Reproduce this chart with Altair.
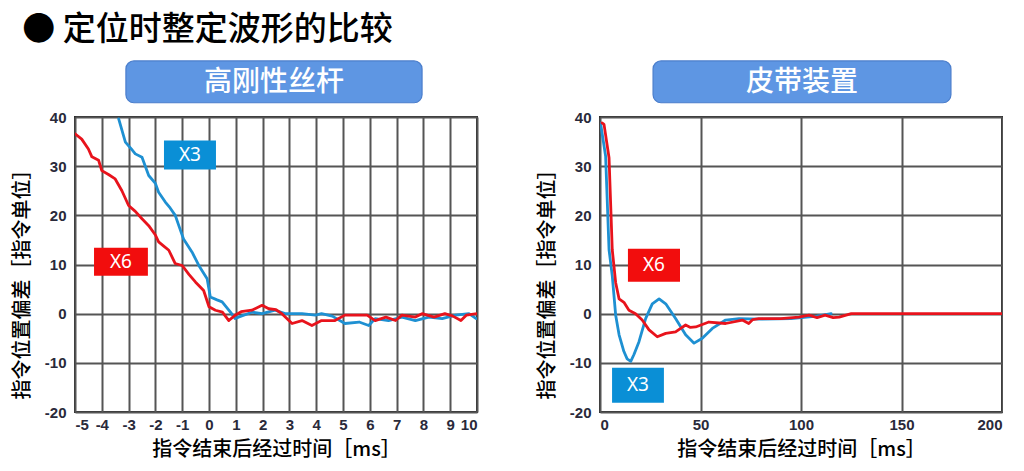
import altair as alt
import pandas as pd

# ---------------- data ----------------
# Left panel: 高刚性丝杆 (time in ms, deviation in command units)
left_x6_t = [-5, -4.75, -4.5, -4.37, -4.12, -4.0, -3.75, -3.5, -3.25, -3.0, -2.75, -2.5, -2.25, -2.0,
             -1.88, -1.7, -1.5, -1.26, -1.0, -0.75, -0.5, -0.2, 0.0, 0.24, 0.5, 0.74, 0.98, 1.2, 1.6,
             1.98, 2.23, 2.5, 2.72, 3.1, 3.47, 3.84, 4.2, 4.7, 5.07, 5.5, 5.9, 6.2, 6.6, 6.96, 7.2,
             7.7, 7.95, 8.4, 8.8, 9.1, 9.4, 9.6, 10]
left_x6_v = [36.6, 35.5, 33.5, 31.9, 31.2, 29.1, 28.3, 27.4, 25, 22, 20.8, 19.3, 17.9, 16,
             14.6, 13.8, 12.9, 10.2, 9.8, 8.0, 6.4, 4.7, 1.4, 0.7, 0.3, -1.4, -0.3, 0.4, 0.7,
             1.7, 1.0, 0.8, 0, -2.0, -1.4, -2.4, -1.4, -1.4, -0.3, -0.3, -0.3, -1.4, -0.7, -1.4, -0.3,
             -0.7, 0, -0.7, 0, -0.5, -1.4, -0.3, 0]
left_x3_t = [-3.37, -3.12, -2.9, -2.75, -2.5, -2.25, -2.0, -1.88, -1.63, -1.45, -1.26, -1.1, -0.95,
             -0.63, -0.38, -0.07, 0.05, 0.3, 0.49, 0.8, 0.98, 1.1, 1.6, 1.98, 2.47, 2.84, 3.47, 3.97,
             4.2, 4.6, 5.07, 5.6, 5.96, 6.2, 6.7, 7.2, 7.7, 8.2, 8.7, 9.2, 9.7, 9.97]
left_x3_v = [39.6, 34.9, 33.5, 32.5, 31.8, 28.1, 26.5, 24.7, 22.7, 21.5, 20, 17.5, 15.2,
             12.5, 9.8, 7.1, 3.4, 2.8, 2.4, 0.3, -1.0, -0.7, 0.3, 0, 0.7, 0, 0, -0.3,
             0, -0.5, -2.0, -1.7, -2.4, -1.0, -1.4, -0.7, -1.4, -0.7, -1.0, -0.3, 0, -1.0]

# Right panel: 皮带装置
right_x6_t = [1, 2, 4.5, 6.1, 7.8, 9.5, 11.9, 14.4, 17.7, 21, 24.4, 28.5, 32.7, 37.6, 42.6, 45, 47.6,
              54.2, 62.5, 70.8, 74, 76, 79, 90, 99, 104, 108, 112, 116, 119, 125, 150, 200]
right_x6_v = [38.8, 38.5, 31.7, 13, 6.3, 3, 2.3, 0.7, 0, -1.3, -3.3, -4.7, -4, -3.7, -2.3, -2.8, -2.7,
              -1.7, -2, -1.3, -2, -1.2, -1, -1, -0.7, -0.3, -0.8, -0.3, -0.8, -0.7, 0, 0, 0]
right_x3_t = [0.3, 2.8, 4.5, 6.1, 7.8, 9.5, 11.9, 13.5, 15.3, 16.9, 19.4, 22.7, 26, 29.4, 32.7, 37.6,
              42.6, 46.8, 50.9, 55.9, 62.5, 69.2, 80, 95, 108, 115]
right_x3_v = [38.7, 32, 13, 7.7, -0.3, -4.3, -7.7, -9.2, -9.7, -8.3, -5.7, -1, 2, 3, 2, -1,
              -4.3, -6, -5, -3, -1.3, -1, -1.1, -1, -0.5, 0]

left_ticks = list(range(-5, 11))
right_ticks = [0, 50, 100, 150, 200]
y_ticks = [-20, -10, 0, 10, 20, 30, 40]

main_title = "● 定位时整定波形的比较"
left_header = "高刚性丝杆"
right_header = "皮带装置"
x_title = "指令结束后经过时间［ms］"
y_title = "指令位置偏差［指令单位］"
series_names = ["X3", "X6"]

# ---------------- styles / annotation layout ----------------
COLORS = {"X3": "#1E90D2", "X6": "#E8131C"}
TAG_COLORS = {"X3": "#0A8FD6", "X6": "#F20D0D"}
HEADER_FILL = "#5E96E3"
HEADER_STROKE = "#4B7ECC"
CJK = "Noto Sans CJK SC"

# tag boxes given in each panel's data coordinates: (series, t1, t2, v1, v2)
left_tags = [("X3", -1.68, 0.26, 35.2, 29.3), ("X6", -4.29, -2.28, 13.4, 7.7)]
right_tags = [("X6", 13.9, 39.8, 13.2, 6.5), ("X3", 6.0, 31.8, -11.0, -18.1)]
left_head_box = (-3.1, 7.95, 51.4, 42.9)
right_head_box = (26.4, 174.6, 51.4, 42.9)

W, H = 402, 295
LABEL_EXPR = "datum.value + ''"


def enc_x(field, dom, ticks):
    return alt.X(field, type="quantitative",
                 scale=alt.Scale(domain=dom, nice=False, zero=False),
                 axis=alt.Axis(values=ticks, title=x_title, labelExpr=LABEL_EXPR))


def enc_y(field):
    return alt.Y(field, type="quantitative",
                 scale=alt.Scale(domain=[-20, 40], nice=False, zero=False),
                 axis=alt.Axis(values=y_ticks, title=y_title, labelExpr=LABEL_EXPR))


def panel(lines, tags, head_box, head_text, dom, ticks):
    layers = []
    tag_df = pd.DataFrame({
        "name": [t[0] for t in tags],
        "t1": [t[1] for t in tags], "t2": [t[2] for t in tags],
        "v1": [t[3] for t in tags], "v2": [t[4] for t in tags],
    })
    tag_df["tc"] = (tag_df["t1"] + tag_df["t2"]) / 2
    tag_df["vc"] = (tag_df["v1"] + tag_df["v2"]) / 2
    # lines (blue first, red on top)
    for name, ts, vs in lines:
        df = pd.DataFrame({"t": ts, "v": vs})
        layers.append(alt.Chart(df).mark_line(color=COLORS[name], strokeWidth=2.8, clip=True,
                                              strokeJoin="round", strokeCap="round")
                      .encode(x=enc_x("t", dom, ticks), y=enc_y("v")))
    layers.append(alt.Chart(tag_df).mark_rect(clip=False).encode(
        x=enc_x("t1", dom, ticks), x2="t2", y=enc_y("v1"), y2="v2",
        color=alt.Color("name:N", scale=alt.Scale(domain=list(TAG_COLORS.keys()),
                                                  range=list(TAG_COLORS.values())), legend=None)))
    layers.append(alt.Chart(tag_df).mark_text(color="white", fontSize=19, font="Noto Sans",
                                              clip=False, baseline="middle").encode(
        x=enc_x("tc", dom, ticks), y=enc_y("vc"), text="name:N"))
    hd = pd.DataFrame({"t1": [head_box[0]], "t2": [head_box[1]], "v1": [head_box[2]],
                       "v2": [head_box[3]], "label": [head_text]})
    hd["tc"] = (hd["t1"] + hd["t2"]) / 2
    hd["vc"] = (hd["v1"] + hd["v2"]) / 2
    layers.append(alt.Chart(hd).mark_rect(fill=HEADER_FILL, stroke=HEADER_STROKE, strokeWidth=1.2,
                                          cornerRadius=8, clip=False).encode(
        x=enc_x("t1", dom, ticks), x2="t2", y=enc_y("v1"), y2="v2"))
    layers.append(alt.Chart(hd).mark_text(color="white", fontSize=28, font=CJK, clip=False,
                                          fontWeight=500, baseline="middle", dy=1).encode(
        x=enc_x("tc", dom, ticks), y=enc_y("vc"), text="label:N"))
    return alt.layer(*layers).properties(width=W, height=H)


left = panel([("X3", left_x3_t, left_x3_v), ("X6", left_x6_t, left_x6_v)],
             left_tags, left_head_box, left_header, [-5, 10], left_ticks)
right = panel([("X3", right_x3_t, right_x3_v), ("X6", right_x6_t, right_x6_v)],
              right_tags, right_head_box, right_header, [0, 200], right_ticks)

chart = alt.hconcat(left, right, spacing=58).properties(
    title=alt.TitleParams(main_title, anchor="start", fontSize=33, font=CJK, fontWeight=500,
                          color="black", offset=12, dx=11),
    padding={"left": 3, "top": 6, "right": 0, "bottom": 0},
).configure_view(stroke="#2b2b2b", strokeWidth=2).configure_axis(
    grid=True, gridColor="#555", gridWidth=2, gridOpacity=1,
    ticks=False, domain=False,
    labelFont="Liberation Sans", labelFontWeight="bold", labelFontSize=15,
    labelColor="#2a2a3a", labelPadding=8,
    titleFont=CJK, titleFontSize=20, titleFontWeight=500, titleColor="black",
).configure_axisX(titlePadding=7, labelPadding=5).configure_axisY(titlePadding=12, titleY=162,
                                                                  labelPadding=9)

chart.save("out.html", embed_options={"renderer": "svg", "actions": False})
